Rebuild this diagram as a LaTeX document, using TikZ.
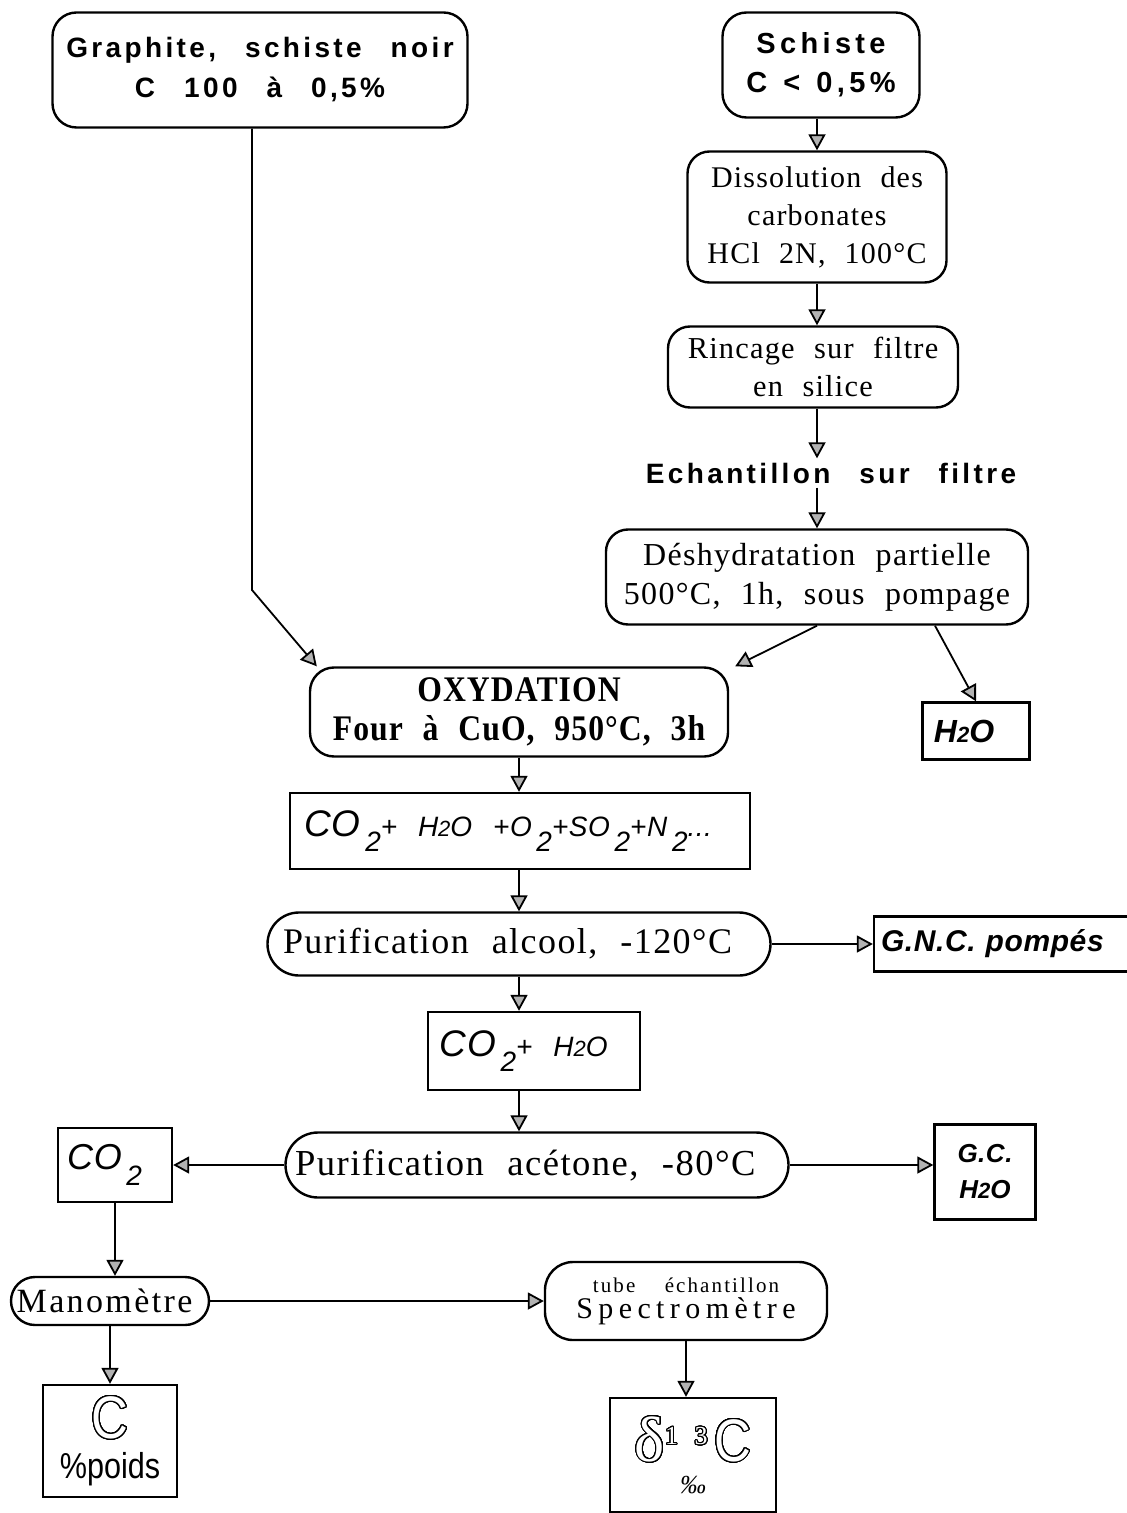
\documentclass[tikz,border=0pt]{standalone}
\usepackage{fontspec}
\usepackage{contour}
\setmainfont{Liberation Serif}[LetterSpace=4,WordSpace=2.2]
\newfontfamily\sansgras{Liberation Sans}[LetterSpace=12,WordSpace=2.6]
\newfontfamily\sanslarge{Liberation Sans}[LetterSpace=15,WordSpace=1.3]
\newfontfamily\formule{Liberation Sans}[LetterSpace=2,WordSpace=2.5]
\newfontfamily\seriflarge{Liberation Serif}[LetterSpace=18]
\newfontfamily\serifaere{Liberation Serif}[LetterSpace=10,WordSpace=4]
\newfontfamily\serifmano{Liberation Serif}[LetterSpace=7]
\newfontfamily\serifetroit{Liberation Serif}[FakeStretch=0.88,LetterSpace=3,WordSpace=2.2]
\newfontfamily\sansetroit{Liberation Sans}[FakeStretch=0.85]
\contourlength{0.5pt}
\contournumber{40}
\newcommand{\creux}[1]{\contour{black}{\textcolor{white}{#1}}}
\newcommand{\bas}[1]{\raisebox{-0.55em}{#1}}
\newcommand{\petit}[1]{{\fontsize{11}{11}\selectfont #1}}
\usetikzlibrary{arrows.meta, positioning, calc}

\begin{document}
\begin{tikzpicture}[x=0.5pt, y=-0.5pt,
    etape/.style={draw, line width=1.2pt, rounded corners=#1, align=center, inner sep=0pt},
    etape/.default=11pt,
    produit/.style={draw, line width=1.2pt, align=center, inner sep=0pt},
    fleche/.style={-{Triangle[length=8pt, width=8.5pt, fill=gray!60]}, line width=0.9pt}
]
    \useasboundingbox (0,0) rectangle (1126,1513);

    \node[etape=12pt, minimum width=207.5pt, minimum height=57.5pt,
          font=\sansgras\bfseries\fontsize{14}{20}\selectfont] (graphite) at (260,70) {
        Graphite, schiste noir\\
        C 100 à 0,5\%
    };

    \node[etape=12pt, minimum width=98.5pt, minimum height=52.5pt,
          font=\sanslarge\bfseries\fontsize{14.5}{19.5}\selectfont] (schiste) at (821,65) {
        Schiste\\
        C < 0,5\%
    };

    \node[etape, minimum width=129.5pt, minimum height=65.5pt,
          font=\fontsize{15}{19}\selectfont] (dissol) at (817,217) {
        Dissolution des\\
        carbonates\\
        HCl 2N, 100°C
    };

    \node[etape, minimum width=145pt, minimum height=40.5pt,
          font=\fontsize{15.2}{19}\selectfont] (rincage) at (813,367) {
        Rincage sur filtre\\
        en silice
    };

    \node[inner sep=2pt, font=\sansgras\bfseries\fontsize{14}{19}\selectfont] (echant) at (831,473) {
        Echantillon sur filtre
    };

    \node[etape, minimum width=211pt, minimum height=47.5pt,
          font=\fontsize{16}{19.5}\selectfont] (deshyd) at (817,577) {
        Déshydratation partielle\\
        500°C, 1h, sous pompage
    };

    \node[etape=12pt, minimum width=209pt, minimum height=44.5pt,
          font=\serifetroit\bfseries\fontsize{18}{19.5}\selectfont] (oxyd) at (519,712) {
        OXYDATION\\
        Four à CuO, 950°C, 3h
    };

    \node[produit, minimum width=53.5pt, minimum height=28.5pt,
          font=\formule\itshape\bfseries\fontsize{16}{18}\selectfont] (heau) at (976,731) {
        H\petit{2}O
    };

    \node[produit, minimum width=230pt, minimum height=38pt,
          font=\formule\itshape\fontsize{14}{15}\selectfont] (gaz) at (520,831) {
        {\fontsize{18.5}{18.5}\selectfont CO}\,\bas{2}+ H\petit{2}O +O\,\bas{2}+SO\,\bas{2}+N\,\bas{2}...
    };

    \node[etape=15.75pt, minimum width=251.5pt, minimum height=31.5pt,
          font=\fontsize{18}{19}\selectfont] (alcool) at (519,944) {
        Purification alcool, -120°C
    };

    \node[produit, minimum width=133pt, minimum height=27.5pt, text width=126pt, align=left,
          font=\formule\itshape\bfseries\fontsize{15}{17}\selectfont] (gnc) at (1007,944) {
        G.N.C. pompés
    };

    \node[produit, minimum width=106pt, minimum height=39pt,
          font=\formule\itshape\fontsize{14}{15}\selectfont] (coh) at (534,1051) {
        {\fontsize{18.5}{18.5}\selectfont CO}\,\bas{2}+ H\petit{2}O
    };

    \node[etape=16.25pt, minimum width=251.5pt, minimum height=32.5pt,
          font=\fontsize{18.3}{19}\selectfont] (acetone) at (537,1165) {
        Purification acétone, -80°C
    };

    \node[produit, minimum width=57pt, minimum height=37pt,
          font=\formule\itshape\fontsize{14}{15}\selectfont] (co) at (115,1165) {
        {\fontsize{18}{18}\selectfont CO}\,\bas{2}
    };

    \node[produit, minimum width=50.5pt, minimum height=47.5pt,
          font=\formule\itshape\bfseries\fontsize{13}{18}\selectfont] (gc) at (985,1172) {
        G.C.\\
        H\petit{2}O
    };

    \node[etape=12pt, minimum width=99pt, minimum height=24pt,
          font=\serifmano\fontsize{17}{19}\selectfont] (mano) at (110,1301) {
        Manomètre
    };

    \node[etape=14pt, minimum width=141pt, minimum height=39pt] (spectro) at (686,1301) {
        {\serifaere\fontsize{10.5}{14}\selectfont tube échantillon}\\[1pt]
        {\seriflarge\fontsize{15}{17}\selectfont Spectromètre}
    };

    \node[produit, minimum width=67pt, minimum height=56pt] (poids) at (110,1441) {
        {\sansetroit\fontsize{30}{30}\selectfont\creux{C}}\\[5pt]
        {\sansetroit\fontsize{18}{18}\selectfont\%poids}
    };

    \node[produit, minimum width=83pt, minimum height=57pt] (delta) at (693,1455) {
        {\fontsize{32}{32}\selectfont\creux{δ}}\raisebox{1.8ex}{\fontsize{13}{13}\selectfont\creux{1 3}}\,\,{\sansetroit\fontsize{30}{30}\selectfont\creux{C}}\\[4pt]
        {\itshape\fontsize{13}{14}\selectfont ‰}
    };

    \coordinate (coude) at (252,590);

    \draw[fleche] (schiste.south -| dissol.north) -- (dissol.north);
    \draw[fleche] (dissol.south) -- (dissol.south |- rincage.north);
    \draw[fleche] (rincage.south -| dissol.south) -- (dissol.south |- echant.north);
    \draw[fleche] (echant.south -| dissol.south) -- (dissol.south |- deshyd.north);
    \draw[fleche] (graphite.south -| coude) -- (coude) -- ([xshift=4pt]oxyd.north west);
    \draw[fleche] (deshyd.south) -- ([xshift=3pt]oxyd.north east);
    \draw[fleche] ([xshift=59pt]deshyd.south) -- (heau.north);
    \draw[fleche] (oxyd.south) -- (oxyd.south |- gaz.north);
    \draw[fleche] (gaz.south -| oxyd.south) -- (oxyd.south |- alcool.north);
    \draw[fleche] (alcool.east) -- (gnc.west);
    \draw[fleche] (alcool.south) -- (alcool.south |- coh.north);
    \draw[fleche] (coh.south -| alcool.south) -- (alcool.south |- acetone.north);
    \draw[fleche] (acetone.west) -- (co.east);
    \draw[fleche] (acetone.east) -- (acetone.east -| gc.west);
    \draw[fleche] (co.south) -- (co.south |- mano.north);
    \draw[fleche] (mano.east) -- (mano.east -| spectro.west);
    \draw[fleche] (mano.south) -- (mano.south |- poids.north);
    \draw[fleche] (spectro.south) -- (spectro.south |- delta.north);
\end{tikzpicture}
\end{document}
